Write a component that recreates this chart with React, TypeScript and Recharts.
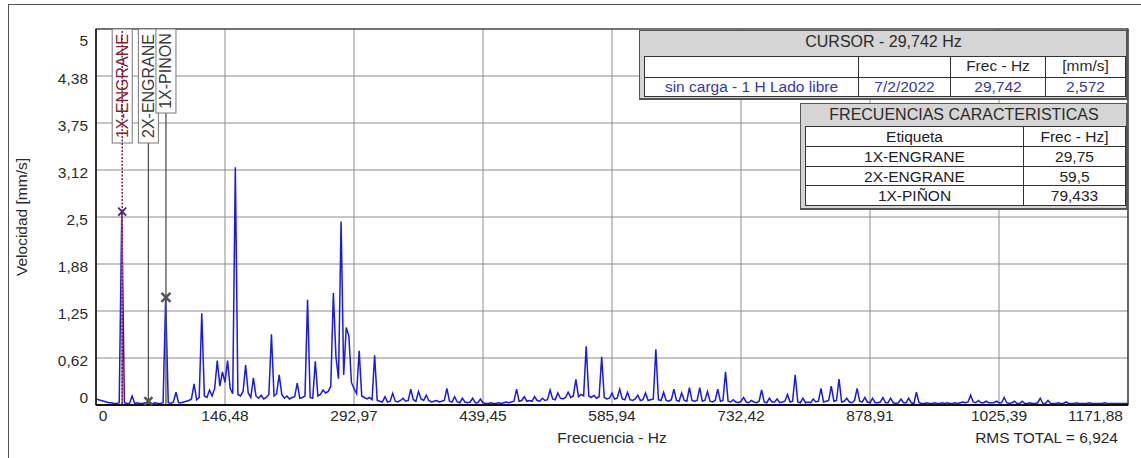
import React from 'react';
import {
  ComposedChart,
  Line,
  XAxis,
  YAxis,
  CartesianGrid,
  ReferenceLine,
  ReferenceDot,
  ReferenceArea,
} from 'recharts';

const FONT = '"Liberation Sans", Arial, sans-serif';
const F_MAX = 1171.875;
const LINES = 400;
const BIN_HZ = F_MAX / LINES;

const X_TICKS = [0, 146.484, 292.969, 439.453, 585.938, 732.422, 878.906, 1025.391, 1171.875];
const X_LABELS = ['0', '146,48', '292,97', '439,45', '585,94', '732,42', '878,91', '1025,39', '1171,88'];
const Y_TICKS = [0, 0.625, 1.25, 1.875, 2.5, 3.125, 3.75, 4.375, 5];
const Y_LABELS = ['0', '0,62', '1,25', '1,88', '2,5', '3,12', '3,75', '4,38', '5'];

// velocity amplitude (mm/s) for each FFT line, 0 .. 400
const AMPLITUDES = [
  0.08, 0.07, 0.06, 0.05, 0.04, 0.03, 0.03, 0.02, 0.02, 0.03, 2.572, 0.03, 0.02, 0.02, 0.12, 0.02, 0.03, 0.02, 0.02, 0.03,
  0.01, 0.02, 0.02, 0.03, 0.02, 0.02, 0.03, 1.42, 0.03, 0.02, 0.04, 0.17, 0.03, 0.03, 0.04, 0.05, 0.06, 0.08, 0.28, 0.07,
  0.1, 1.22, 0.12, 0.1, 0.2, 0.12, 0.22, 0.59, 0.25, 0.44, 0.3, 0.59, 0.22, 0.15, 3.16, 0.14, 0.12, 0.18, 0.53, 0.16,
  0.1, 0.36, 0.12, 0.09, 0.13, 0.08, 0.1, 0.14, 0.94, 0.12, 0.15, 0.4, 0.14, 0.09, 0.12, 0.08, 0.1, 0.11, 0.29, 0.09,
  0.1, 0.12, 1.4, 0.1, 0.09, 0.58, 0.12, 0.14, 0.2, 0.16, 0.18, 0.25, 1.49, 0.64, 0.35, 2.44, 0.4, 1.03, 0.92, 0.3,
  0.22, 0.15, 0.72, 0.12, 0.1, 0.08, 0.1, 0.07, 0.66, 0.06, 0.05, 0.04, 0.11, 0.04, 0.05, 0.155, 0.05, 0.04, 0.06, 0.09,
  0.05, 0.06, 0.21, 0.07, 0.05, 0.18, 0.08, 0.06, 0.13, 0.06, 0.04, 0.05, 0.06, 0.04, 0.05, 0.06, 0.22, 0.05, 0.04, 0.11,
  0.04, 0.03, 0.09, 0.04, 0.03, 0.04, 0.09, 0.03, 0.03, 0.08, 0.03, 0.02, 0.02, 0.03, 0.02, 0.02, 0.03, 0.02, 0.03, 0.04,
  0.03, 0.04, 0.05, 0.21, 0.05, 0.06, 0.11, 0.05, 0.06, 0.05, 0.11, 0.06, 0.05, 0.09, 0.06, 0.07, 0.2, 0.08, 0.07, 0.16,
  0.09, 0.08, 0.1, 0.17, 0.1, 0.12, 0.34, 0.11, 0.14, 0.12, 0.78, 0.12, 0.1, 0.13, 0.09, 0.11, 0.64, 0.1, 0.08, 0.09,
  0.16, 0.08, 0.09, 0.21, 0.08, 0.07, 0.17, 0.07, 0.06, 0.08, 0.13, 0.06, 0.07, 0.16, 0.06, 0.07, 0.08, 0.74, 0.07, 0.06,
  0.17, 0.06, 0.05, 0.07, 0.21, 0.06, 0.05, 0.16, 0.06, 0.05, 0.23, 0.06, 0.05, 0.06, 0.23, 0.05, 0.06, 0.18, 0.05, 0.04,
  0.06, 0.21, 0.05, 0.06, 0.44, 0.05, 0.04, 0.07, 0.04, 0.03, 0.05, 0.1, 0.04, 0.03, 0.06, 0.04, 0.03, 0.05, 0.2, 0.04,
  0.03, 0.09, 0.04, 0.04, 0.08, 0.03, 0.04, 0.05, 0.14, 0.04, 0.05, 0.4, 0.04, 0.03, 0.09, 0.03, 0.04, 0.03, 0.08, 0.04,
  0.05, 0.22, 0.04, 0.05, 0.06, 0.25, 0.05, 0.06, 0.345, 0.04, 0.05, 0.09, 0.04, 0.03, 0.06, 0.22, 0.05, 0.04, 0.1, 0.04,
  0.03, 0.09, 0.03, 0.03, 0.04, 0.1, 0.03, 0.03, 0.09, 0.03, 0.02, 0.03, 0.08, 0.03, 0.03, 0.09, 0.03, 0.02, 0.17, 0.03,
  0.02, 0.02, 0.03, 0.02, 0.02, 0.03, 0.02, 0.02, 0.03, 0.02, 0.03, 0.02, 0.02, 0.03, 0.02, 0.03, 0.04, 0.03, 0.04, 0.13,
  0.04, 0.03, 0.06, 0.03, 0.03, 0.05, 0.03, 0.03, 0.03, 0.05, 0.03, 0.03, 0.1, 0.03, 0.02, 0.03, 0.05, 0.02, 0.02, 0.05,
  0.02, 0.02, 0.03, 0.02, 0.02, 0.03, 0.09, 0.02, 0.02, 0.06, 0.02, 0.02, 0.02, 0.03, 0.02, 0.02, 0.04, 0.02, 0.02, 0.02,
  0.03, 0.02, 0.02, 0.02, 0.02, 0.03, 0.02, 0.02, 0.02, 0.02, 0.02, 0.03, 0.02, 0.02, 0.02, 0.02, 0.02, 0.02, 0.02, 0.02,
  0.02,
];

// characteristic frequencies
const MARK_NAMES = ['1X-ENGRANE', '2X-ENGRANE', '1X-PINON'];
const MARK_TABLE_NAMES = ['1X-ENGRANE', '2X-ENGRANE', '1X-PIÑON'];
const MARK_FREQS = [29.75, 59.5, 79.433];
const MARK_FREQ_TEXT = ['29,75', '59,5', '79,433'];
const MARK_HIT_AMPS = [2.572, 0.05, 1.43];

const CURSOR_FREQ = 29.742;
const CURSOR_AMP = 2.572;
const CURSOR_ROW = ['sin carga - 1 H Lado libre', '7/2/2022', '29,742', '2,572'];

const spectrum = AMPLITUDES.map((amp, i) => ({ freq: i * BIN_HZ, amp }));

// label box heights (px) for each marker tag
const TAG_H = [114, 114, 84];
const TAG_COLOR = ['#7d2438', '#3a3a3a', '#3a3a3a'];

const XTick = (props: any) => {
  const { x, y, index } = props;
  let tx = x;
  let anchor: any = 'middle';
  if (index === 0) tx = x + 7;
  if (index === X_TICKS.length - 1) {
    tx = x - 5;
    anchor = 'end';
  }
  return (
    <text x={tx} y={y} dy={7.5} textAnchor={anchor} fontSize={15.5} fill="#2a2a2a" fontFamily={FONT}>
      {X_LABELS[index]}
    </text>
  );
};

const YTick = (props: any) => {
  const { x, y, index } = props;
  let dy = 7.5;
  if (index === 0) dy = -2.5;
  if (index === Y_TICKS.length - 1) dy = 16.5;
  return (
    <text x={x} y={y} dy={dy} textAnchor="end" fontSize={15.5} fill="#2a2a2a" fontFamily={FONT}>
      {Y_LABELS[index]}
    </text>
  );
};

const makeTag = (i: number) => (props: any) => {
  const { x1, y1, y2 } = props;
  const top = Math.min(y1, y2);
  const bottom = Math.max(y1, y2);
  const h = TAG_H[i];
  const cy = top + h / 2;
  const first = i === 0;
  return (
    <g>
      {!first && <line x1={x1} x2={x1} y1={top + h} y2={bottom} stroke="#505050" strokeWidth={1.3} />}
      <rect x={x1 - 10} y={top} width={20} height={h} fill="#fff" stroke="#777" strokeWidth={1} />
      <text
        x={x1}
        y={cy}
        transform={`rotate(-90 ${x1} ${cy})`}
        textAnchor="middle"
        dominantBaseline="central"
        fontSize={16}
        fill={TAG_COLOR[i]}
        fontFamily={FONT}
      >
        {MARK_NAMES[i]}
      </text>
      {first && (
        <line x1={x1} x2={x1} y1={top + 2} y2={bottom} stroke="#7d2438" strokeWidth={1.5} strokeDasharray="2 1.5" />
      )}
    </g>
  );
};

const crossShape = (color: string, size: number, width: number) => (props: any) => {
  const { cx, cy } = props;
  return (
    <g stroke={color} strokeWidth={width}>
      <line x1={cx - size} y1={cy - size} x2={cx + size} y2={cy + size} />
      <line x1={cx - size} y1={cy + size} x2={cx + size} y2={cy - size} />
    </g>
  );
};

const cellBase: React.CSSProperties = {
  position: 'absolute',
  boxSizing: 'border-box',
  border: '1px solid #333',
  background: '#fff',
  textAlign: 'center',
  fontSize: 15.5,
  lineHeight: '18px',
  whiteSpace: 'nowrap',
  overflow: 'hidden',
};

const CURSOR_COLS = [644, 858, 950, 1045, 1125];
const FREQ_COLS = [805, 1023, 1125];

export default function App() {
  return (
    <div
      style={{
        position: 'absolute',
        left: 0,
        top: 0,
        width: 1141,
        height: 458,
        background: '#fff',
        overflow: 'hidden',
        fontFamily: FONT,
        color: '#222',
      }}
    >
      <div
        style={{
          position: 'absolute',
          left: 8,
          top: 4,
          width: 1141,
          height: 460,
          borderLeft: '1px solid #555',
          borderTop: '1px solid #555',
        }}
      />
      <div style={{ position: 'absolute', left: 0, top: 0 }}>
        <ComposedChart
          width={1141}
          height={458}
          data={spectrum}
          margin={{ top: 29, right: 13, bottom: 23, left: 36 }}
        >
          <CartesianGrid stroke="#8c8c8c" strokeWidth={1} />
          <XAxis
            type="number"
            dataKey="freq"
            domain={[0, F_MAX]}
            ticks={X_TICKS}
            interval={0}
            tick={<XTick />}
            tickLine={false}
            axisLine={{ stroke: '#111', strokeWidth: 2 }}
            height={30}
            allowDataOverflow
          />
          <YAxis
            type="number"
            domain={[0, 5]}
            ticks={Y_TICKS}
            interval={0}
            tick={<YTick />}
            tickLine={false}
            axisLine={{ stroke: '#222', strokeWidth: 1.5 }}
            width={60}
            allowDataOverflow
          />
          <ReferenceArea x1={0} x2={F_MAX} y1={0} y2={5} fill="none" stroke="#222" strokeWidth={1.2} />
          <Line
            type="linear"
            dataKey="amp"
            stroke="#1a1ae0"
            strokeWidth={1.5}
            dot={false}
            activeDot={false}
            isAnimationActive={false}
          />
          <ReferenceLine
            segment={[
              { x: CURSOR_FREQ, y: 0 },
              { x: CURSOR_FREQ, y: CURSOR_AMP },
            ]}
            stroke="#c4548e"
            strokeWidth={1.6}
          />
          {MARK_FREQS.map((f, i) => (
            <ReferenceLine key={MARK_NAMES[i]} x={f} shape={makeTag(i)} />
          ))}
          <ReferenceDot x={CURSOR_FREQ} y={CURSOR_AMP} r={4} shape={crossShape('#4b2a7a', 4, 2)} />
          <ReferenceDot x={MARK_FREQS[1]} y={MARK_HIT_AMPS[1]} r={4} shape={crossShape('#555', 4, 2.5)} />
          <ReferenceDot x={MARK_FREQS[2]} y={MARK_HIT_AMPS[2]} r={4} shape={crossShape('#555', 4.5, 2.5)} />
        </ComposedChart>
      </div>

      <div
        style={{
          position: 'absolute',
          left: 22,
          top: 217,
          transform: 'translate(-50%, -50%) rotate(-90deg)',
          fontSize: 15.5,
          whiteSpace: 'nowrap',
          color: '#2a2a2a',
        }}
      >
        Velocidad [mm/s]
      </div>
      <div
        style={{
          position: 'absolute',
          left: 612,
          top: 438,
          transform: 'translate(-50%, -50%)',
          fontSize: 15.5,
          whiteSpace: 'nowrap',
          color: '#2a2a2a',
        }}
      >
        Frecuencia - Hz
      </div>
      <div
        style={{
          position: 'absolute',
          right: 1141 - 1118,
          top: 438,
          transform: 'translateY(-50%)',
          fontSize: 15.5,
          whiteSpace: 'nowrap',
          color: '#2a2a2a',
        }}
      >
        RMS TOTAL = 6,924
      </div>

      {/* cursor panel */}
      <div
        style={{
          position: 'absolute',
          left: 639,
          top: 30,
          width: 489,
          height: 70,
          boxSizing: 'border-box',
          background: '#d5d5d5',
          border: '1px solid #555',
          borderRightWidth: 2,
          borderBottomWidth: 2,
        }}
      />
      <div style={{ position: 'absolute', left: 639, width: 489, top: 33, textAlign: 'center', fontSize: 16, color: '#2a2a2a' }}>
        CURSOR - 29,742 Hz
      </div>
      {['', '', 'Frec - Hz', '[mm/s]'].map((t, c) => (
        <div
          key={'h' + c}
          style={{
            ...cellBase,
            left: CURSOR_COLS[c],
            width: CURSOR_COLS[c + 1] - CURSOR_COLS[c] + 1,
            top: 56,
            height: 22,
            color: '#2a2a2a',
          }}
        >
          {t}
        </div>
      ))}
      {CURSOR_ROW.map((t, c) => (
        <div
          key={'r' + c}
          style={{
            ...cellBase,
            left: CURSOR_COLS[c],
            width: CURSOR_COLS[c + 1] - CURSOR_COLS[c] + 1,
            top: 77,
            height: 20,
            color: '#3838a8',
          }}
        >
          {t}
        </div>
      ))}

      {/* characteristic frequencies panel */}
      <div
        style={{
          position: 'absolute',
          left: 800,
          top: 103,
          width: 328,
          height: 107,
          boxSizing: 'border-box',
          background: '#d5d5d5',
          border: '1px solid #555',
          borderRightWidth: 2,
          borderBottomWidth: 2,
        }}
      />
      <div style={{ position: 'absolute', left: 800, width: 328, top: 106, textAlign: 'center', fontSize: 16, color: '#2a2a2a' }}>
        FRECUENCIAS CARACTERISTICAS
      </div>
      {[['Etiqueta', 'Frec - Hz]'], ...MARK_TABLE_NAMES.map((n, i) => [n, MARK_FREQ_TEXT[i]])].map((row, r) =>
        row.map((t, c) => (
          <div
            key={`f${r}-${c}`}
            style={{
              ...cellBase,
              left: FREQ_COLS[c],
              width: FREQ_COLS[c + 1] - FREQ_COLS[c] + 1,
              top: 126 + r * 19.75,
              height: 20.75,
              lineHeight: '19px',
              color: '#222',
            }}
          >
            {t}
          </div>
        ))
      )}
    </div>
  );
}
